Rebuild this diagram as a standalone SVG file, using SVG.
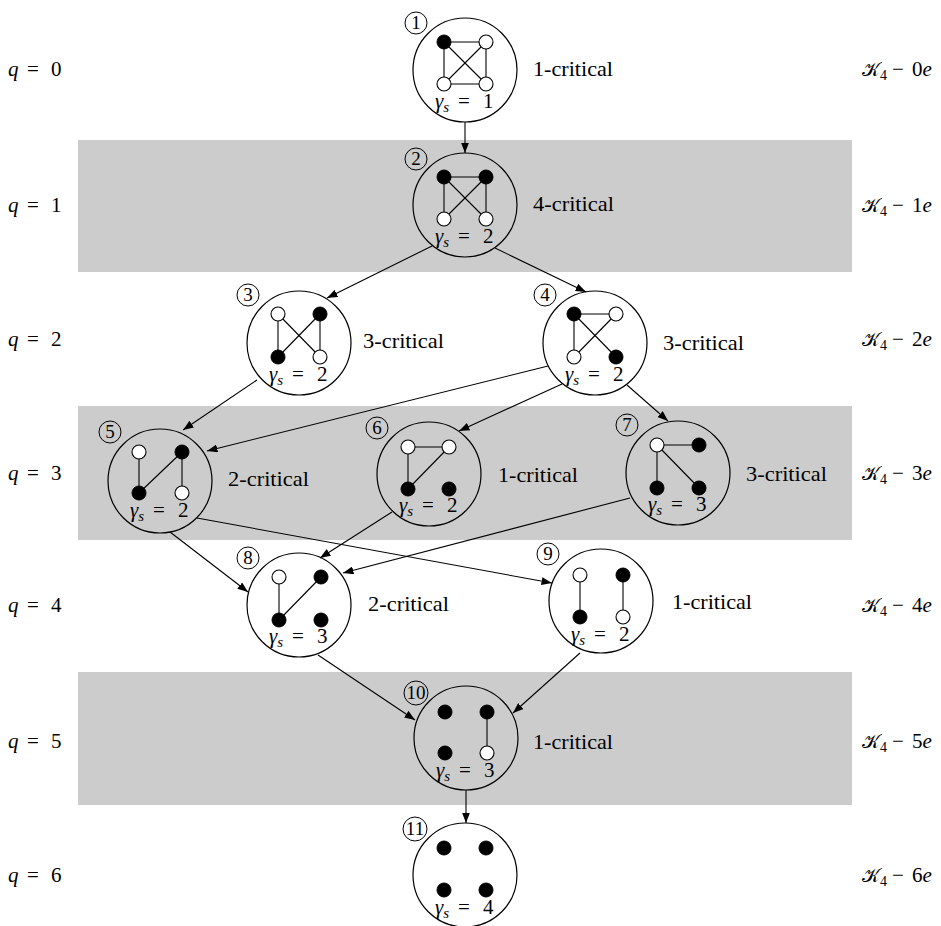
<svg xmlns="http://www.w3.org/2000/svg" width="941" height="926" viewBox="0 0 941 926">
<defs>
<marker id="ah" markerUnits="userSpaceOnUse" markerWidth="11" markerHeight="8" refX="10.5" refY="4" orient="auto">
<path d="M0,0 L10.5,4 L0,8 z" fill="#000"/>
</marker>
<style>
.band{fill:#cccccc}
.node{fill:none;stroke:#000;stroke-width:1.2}
.e{stroke:#000;stroke-width:1.1}
.b{fill:#000;stroke:#000;stroke-width:1}
.w{fill:#fff;stroke:#000;stroke-width:1.1}
.nc{fill:none;stroke:#000;stroke-width:1}
.arr{stroke:#000;stroke-width:1.1;fill:none;marker-end:url(#ah)}
</style>
</defs>
<rect width="941" height="926" fill="#fff"/>
<g id="bands">
<rect class="band" x="78" y="140" width="774" height="132"/>
<rect class="band" x="78" y="406" width="774" height="134"/>
<rect class="band" x="78" y="672" width="774" height="133"/>
</g>
<g id="row-labels">
<text font-family="Liberation Serif" font-size="21" y="76"><tspan x="8" font-style="italic">q</tspan><tspan x="27">=</tspan><tspan x="51">0</tspan></text>
<text font-family="Liberation Serif" font-size="21" y="212"><tspan x="8" font-style="italic">q</tspan><tspan x="27">=</tspan><tspan x="51">1</tspan></text>
<text font-family="Liberation Serif" font-size="21" y="346"><tspan x="8" font-style="italic">q</tspan><tspan x="27">=</tspan><tspan x="51">2</tspan></text>
<text font-family="Liberation Serif" font-size="21" y="480"><tspan x="8" font-style="italic">q</tspan><tspan x="27">=</tspan><tspan x="51">3</tspan></text>
<text font-family="Liberation Serif" font-size="21" y="612"><tspan x="8" font-style="italic">q</tspan><tspan x="27">=</tspan><tspan x="51">4</tspan></text>
<text font-family="Liberation Serif" font-size="21" y="748"><tspan x="8" font-style="italic">q</tspan><tspan x="27">=</tspan><tspan x="51">5</tspan></text>
<text font-family="Liberation Serif" font-size="21" y="882"><tspan x="8" font-style="italic">q</tspan><tspan x="27">=</tspan><tspan x="51">6</tspan></text>
<text font-family="Liberation Serif" font-size="21" y="76"><tspan x="862" font-family="DejaVu Serif" font-size="19">𝒦</tspan><tspan font-size="14" dy="4">4</tspan><tspan x="892" dy="-4">−</tspan><tspan x="912">0</tspan><tspan font-style="italic">e</tspan></text>
<text font-family="Liberation Serif" font-size="21" y="212"><tspan x="862" font-family="DejaVu Serif" font-size="19">𝒦</tspan><tspan font-size="14" dy="4">4</tspan><tspan x="892" dy="-4">−</tspan><tspan x="912">1</tspan><tspan font-style="italic">e</tspan></text>
<text font-family="Liberation Serif" font-size="21" y="346"><tspan x="862" font-family="DejaVu Serif" font-size="19">𝒦</tspan><tspan font-size="14" dy="4">4</tspan><tspan x="892" dy="-4">−</tspan><tspan x="912">2</tspan><tspan font-style="italic">e</tspan></text>
<text font-family="Liberation Serif" font-size="21" y="480"><tspan x="862" font-family="DejaVu Serif" font-size="19">𝒦</tspan><tspan font-size="14" dy="4">4</tspan><tspan x="892" dy="-4">−</tspan><tspan x="912">3</tspan><tspan font-style="italic">e</tspan></text>
<text font-family="Liberation Serif" font-size="21" y="612"><tspan x="862" font-family="DejaVu Serif" font-size="19">𝒦</tspan><tspan font-size="14" dy="4">4</tspan><tspan x="892" dy="-4">−</tspan><tspan x="912">4</tspan><tspan font-style="italic">e</tspan></text>
<text font-family="Liberation Serif" font-size="21" y="748"><tspan x="862" font-family="DejaVu Serif" font-size="19">𝒦</tspan><tspan font-size="14" dy="4">4</tspan><tspan x="892" dy="-4">−</tspan><tspan x="912">5</tspan><tspan font-style="italic">e</tspan></text>
<text font-family="Liberation Serif" font-size="21" y="882"><tspan x="862" font-family="DejaVu Serif" font-size="19">𝒦</tspan><tspan font-size="14" dy="4">4</tspan><tspan x="892" dy="-4">−</tspan><tspan x="912">6</tspan><tspan font-style="italic">e</tspan></text>
</g>
<g id="connectors">
<line class="arr" x1="465" y1="122" x2="465" y2="153"/>
<line class="arr" x1="432" y1="246" x2="327" y2="298"/>
<line class="arr" x1="495" y1="248" x2="586" y2="292"/>
<line class="arr" x1="257" y1="380" x2="183" y2="430"/>
<line class="arr" x1="548" y1="366" x2="207" y2="451"/>
<line class="arr" x1="562" y1="384" x2="459" y2="431"/>
<line class="arr" x1="627" y1="385" x2="668" y2="421"/>
<line class="arr" x1="170" y1="532" x2="248" y2="592"/>
<line class="arr" x1="197" y1="518" x2="552" y2="583"/>
<line class="arr" x1="392" y1="512" x2="320" y2="558"/>
<line class="arr" x1="630" y1="498" x2="343" y2="573"/>
<line class="arr" x1="318" y1="655" x2="415" y2="720"/>
<line class="arr" x1="580" y1="653" x2="513" y2="713"/>
<line class="arr" x1="466" y1="790" x2="466" y2="823"/>
</g>
<g id="n1">
<circle class="node" cx="465" cy="70" r="52"/>
<circle class="nc" cx="416" cy="23" r="11"/><text font-family="Liberation Serif" font-size="19" text-anchor="middle" x="416" y="29">1</text>
<line class="e" x1="444" y1="42" x2="486" y2="42"/><line class="e" x1="444" y1="42" x2="444" y2="84"/><line class="e" x1="486" y1="42" x2="486" y2="84"/><line class="e" x1="444" y1="84" x2="486" y2="84"/><line class="e" x1="444" y1="42" x2="486" y2="84"/><line class="e" x1="486" y1="42" x2="444" y2="84"/>
<circle class="b" cx="444" cy="42" r="7"/><circle class="w" cx="486" cy="42" r="7"/><circle class="w" cx="444" cy="84" r="7"/><circle class="w" cx="486" cy="84" r="7"/>
<text font-family="Liberation Serif" font-size="21" y="108"><tspan x="435" font-style="italic">γ</tspan><tspan font-style="italic" font-size="15" dy="4">s</tspan><tspan x="458" dy="-4">=</tspan><tspan x="483">1</tspan></text>
<text font-family="Liberation Serif" font-size="21" x="533" y="76" textLength="80" lengthAdjust="spacingAndGlyphs">1-critical</text>
</g>
<g id="n2">
<circle class="node" cx="465" cy="205" r="52"/>
<circle class="nc" cx="416" cy="159" r="11"/><text font-family="Liberation Serif" font-size="19" text-anchor="middle" x="416" y="165">2</text>
<line class="e" x1="444" y1="177" x2="486" y2="177"/><line class="e" x1="444" y1="177" x2="444" y2="219"/><line class="e" x1="486" y1="177" x2="486" y2="219"/><line class="e" x1="444" y1="177" x2="486" y2="219"/><line class="e" x1="486" y1="177" x2="444" y2="219"/>
<circle class="b" cx="444" cy="177" r="7"/><circle class="b" cx="486" cy="177" r="7"/><circle class="w" cx="444" cy="219" r="7"/><circle class="w" cx="486" cy="219" r="7"/>
<text font-family="Liberation Serif" font-size="21" y="243"><tspan x="435" font-style="italic">γ</tspan><tspan font-style="italic" font-size="15" dy="4">s</tspan><tspan x="458" dy="-4">=</tspan><tspan x="483">2</tspan></text>
<text font-family="Liberation Serif" font-size="21" x="533" y="211" textLength="81" lengthAdjust="spacingAndGlyphs">4-critical</text>
</g>
<g id="n3">
<circle class="node" cx="299" cy="343" r="52"/>
<circle class="nc" cx="248" cy="295" r="11"/><text font-family="Liberation Serif" font-size="19" text-anchor="middle" x="248" y="301">3</text>
<line class="e" x1="278" y1="314" x2="278" y2="357"/><line class="e" x1="320" y1="314" x2="320" y2="357"/><line class="e" x1="278" y1="314" x2="320" y2="357"/><line class="e" x1="320" y1="314" x2="278" y2="357"/>
<circle class="w" cx="278" cy="314" r="7"/><circle class="b" cx="320" cy="314" r="7"/><circle class="b" cx="278" cy="357" r="7"/><circle class="w" cx="320" cy="357" r="7"/>
<text font-family="Liberation Serif" font-size="21" y="381"><tspan x="269" font-style="italic">γ</tspan><tspan font-style="italic" font-size="15" dy="4">s</tspan><tspan x="292" dy="-4">=</tspan><tspan x="317">2</tspan></text>
<text font-family="Liberation Serif" font-size="21" x="363" y="348" textLength="81" lengthAdjust="spacingAndGlyphs">3-critical</text>
</g>
<g id="n4">
<circle class="node" cx="595" cy="343" r="52"/>
<circle class="nc" cx="545" cy="295" r="11"/><text font-family="Liberation Serif" font-size="19" text-anchor="middle" x="545" y="301">4</text>
<line class="e" x1="574" y1="314" x2="616" y2="314"/><line class="e" x1="574" y1="314" x2="574" y2="357"/><line class="e" x1="574" y1="314" x2="616" y2="357"/><line class="e" x1="616" y1="314" x2="574" y2="357"/>
<circle class="b" cx="574" cy="314" r="7"/><circle class="w" cx="616" cy="314" r="7"/><circle class="w" cx="574" cy="357" r="7"/><circle class="b" cx="616" cy="357" r="7"/>
<text font-family="Liberation Serif" font-size="21" y="381"><tspan x="565" font-style="italic">γ</tspan><tspan font-style="italic" font-size="15" dy="4">s</tspan><tspan x="588" dy="-4">=</tspan><tspan x="613">2</tspan></text>
<text font-family="Liberation Serif" font-size="21" x="663" y="350" textLength="81" lengthAdjust="spacingAndGlyphs">3-critical</text>
</g>
<g id="n5">
<circle class="node" cx="160" cy="481" r="52"/>
<circle class="nc" cx="110" cy="432" r="11"/><text font-family="Liberation Serif" font-size="19" text-anchor="middle" x="110" y="438">5</text>
<line class="e" x1="139" y1="452" x2="139" y2="493"/><line class="e" x1="182" y1="452" x2="182" y2="493"/><line class="e" x1="182" y1="452" x2="139" y2="493"/>
<circle class="w" cx="139" cy="452" r="7"/><circle class="b" cx="182" cy="452" r="7"/><circle class="b" cx="139" cy="493" r="7"/><circle class="w" cx="182" cy="493" r="7"/>
<text font-family="Liberation Serif" font-size="21" y="517"><tspan x="130" font-style="italic">γ</tspan><tspan font-style="italic" font-size="15" dy="4">s</tspan><tspan x="153" dy="-4">=</tspan><tspan x="178">2</tspan></text>
<text font-family="Liberation Serif" font-size="21" x="228" y="486" textLength="81" lengthAdjust="spacingAndGlyphs">2-critical</text>
</g>
<g id="n6">
<circle class="node" cx="429" cy="474" r="52"/>
<circle class="nc" cx="377" cy="428" r="11"/><text font-family="Liberation Serif" font-size="19" text-anchor="middle" x="377" y="434">6</text>
<line class="e" x1="408" y1="447" x2="449" y2="447"/><line class="e" x1="408" y1="447" x2="408" y2="489"/><line class="e" x1="449" y1="447" x2="408" y2="489"/>
<circle class="w" cx="408" cy="447" r="7"/><circle class="w" cx="449" cy="447" r="7"/><circle class="b" cx="408" cy="489" r="7"/><circle class="b" cx="449" cy="489" r="7"/>
<text font-family="Liberation Serif" font-size="21" y="512"><tspan x="399" font-style="italic">γ</tspan><tspan font-style="italic" font-size="15" dy="4">s</tspan><tspan x="422" dy="-4">=</tspan><tspan x="447">2</tspan></text>
<text font-family="Liberation Serif" font-size="21" x="498" y="482" textLength="80" lengthAdjust="spacingAndGlyphs">1-critical</text>
</g>
<g id="n7">
<circle class="node" cx="678" cy="473" r="52"/>
<circle class="nc" cx="627" cy="425" r="11"/><text font-family="Liberation Serif" font-size="19" text-anchor="middle" x="627" y="431">7</text>
<line class="e" x1="657" y1="445" x2="699" y2="445"/><line class="e" x1="657" y1="445" x2="657" y2="488"/><line class="e" x1="657" y1="445" x2="699" y2="488"/>
<circle class="w" cx="657" cy="445" r="7"/><circle class="b" cx="699" cy="445" r="7"/><circle class="b" cx="657" cy="488" r="7"/><circle class="b" cx="699" cy="488" r="7"/>
<text font-family="Liberation Serif" font-size="21" y="511"><tspan x="648" font-style="italic">γ</tspan><tspan font-style="italic" font-size="15" dy="4">s</tspan><tspan x="671" dy="-4">=</tspan><tspan x="696">3</tspan></text>
<text font-family="Liberation Serif" font-size="21" x="746" y="481" textLength="81" lengthAdjust="spacingAndGlyphs">3-critical</text>
</g>
<g id="n8">
<circle class="node" cx="299" cy="605" r="52"/>
<circle class="nc" cx="248" cy="558" r="11"/><text font-family="Liberation Serif" font-size="19" text-anchor="middle" x="248" y="564">8</text>
<line class="e" x1="279" y1="577" x2="279" y2="620"/><line class="e" x1="321" y1="577" x2="279" y2="620"/>
<circle class="w" cx="279" cy="577" r="7"/><circle class="b" cx="321" cy="577" r="7"/><circle class="b" cx="279" cy="620" r="7"/><circle class="b" cx="321" cy="620" r="7"/>
<text font-family="Liberation Serif" font-size="21" y="643"><tspan x="269" font-style="italic">γ</tspan><tspan font-style="italic" font-size="15" dy="4">s</tspan><tspan x="292" dy="-4">=</tspan><tspan x="317">3</tspan></text>
<text font-family="Liberation Serif" font-size="21" x="368" y="611" textLength="81" lengthAdjust="spacingAndGlyphs">2-critical</text>
</g>
<g id="n9">
<circle class="node" cx="601" cy="601" r="52"/>
<circle class="nc" cx="548" cy="554" r="11"/><text font-family="Liberation Serif" font-size="19" text-anchor="middle" x="548" y="560">9</text>
<line class="e" x1="580" y1="575" x2="580" y2="617"/><line class="e" x1="623" y1="575" x2="623" y2="617"/>
<circle class="w" cx="580" cy="575" r="7"/><circle class="b" cx="623" cy="575" r="7"/><circle class="b" cx="580" cy="617" r="7"/><circle class="w" cx="623" cy="617" r="7"/>
<text font-family="Liberation Serif" font-size="21" y="641"><tspan x="571" font-style="italic">γ</tspan><tspan font-style="italic" font-size="15" dy="4">s</tspan><tspan x="594" dy="-4">=</tspan><tspan x="619">2</tspan></text>
<text font-family="Liberation Serif" font-size="21" x="672" y="609" textLength="80" lengthAdjust="spacingAndGlyphs">1-critical</text>
</g>
<g id="n10">
<circle class="node" cx="466" cy="738" r="52"/>
<circle class="nc" cx="416" cy="693" r="12"/><text font-family="Liberation Serif" font-size="19" text-anchor="middle" x="416" y="699">10</text>
<line class="e" x1="487" y1="712" x2="487" y2="753"/>
<circle class="b" cx="445" cy="712" r="7"/><circle class="b" cx="487" cy="712" r="7"/><circle class="b" cx="445" cy="753" r="7"/><circle class="w" cx="487" cy="753" r="7"/>
<text font-family="Liberation Serif" font-size="21" y="777"><tspan x="436" font-style="italic">γ</tspan><tspan font-style="italic" font-size="15" dy="4">s</tspan><tspan x="459" dy="-4">=</tspan><tspan x="484">3</tspan></text>
<text font-family="Liberation Serif" font-size="21" x="533" y="749" textLength="80" lengthAdjust="spacingAndGlyphs">1-critical</text>
</g>
<g id="n11">
<circle class="node" cx="465" cy="875" r="52"/>
<circle class="nc" cx="415" cy="829" r="12"/><text font-family="Liberation Serif" font-size="19" text-anchor="middle" x="415" y="835">11</text>
<circle class="b" cx="444" cy="848" r="7"/><circle class="b" cx="486" cy="848" r="7"/><circle class="b" cx="444" cy="890" r="7"/><circle class="b" cx="486" cy="890" r="7"/>
<text font-family="Liberation Serif" font-size="21" y="914"><tspan x="435" font-style="italic">γ</tspan><tspan font-style="italic" font-size="15" dy="4">s</tspan><tspan x="458" dy="-4">=</tspan><tspan x="483">4</tspan></text>
</g>
</svg>
